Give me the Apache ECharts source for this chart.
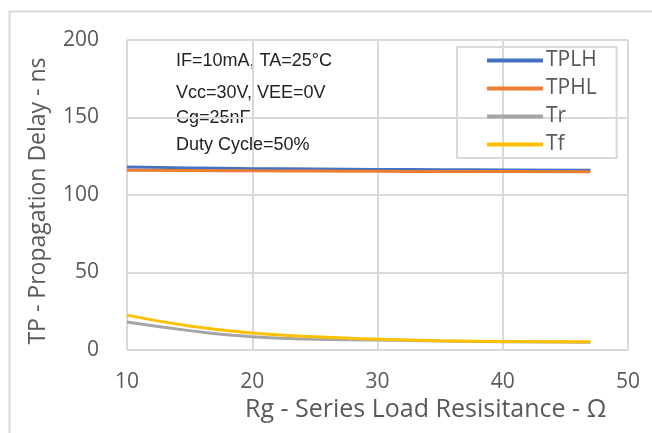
<!DOCTYPE html>
<html><head><meta charset="utf-8">
<script src="https://cdn.jsdelivr.net/npm/echarts@6/dist/echarts.min.js"></script>
<style>html,body{margin:0;padding:0;background:#fff}#c{width:652px;height:433px}</style>
</head><body><div id="c"></div>
<script>
const rg = [10, 15, 20, 25, 30, 35, 40, 47];
const tplh = [118, 117.5, 117, 116.8, 116.5, 116.3, 116.2, 116];
const tphl = [116, 115.8, 115.6, 115.5, 115.3, 115.2, 115.1, 115];
const tr = [18, 12.5, 8.5, 7, 6.5, 5.8, 5.3, 5];
const tf = [22.5, 15.5, 11, 8.5, 7, 6, 5.5, 5.3];
const seriesNames = ['TPLH', 'TPHL', 'Tr', 'Tf'];
const seriesColors = ['#4472C4', '#ED7D31', '#A5A5A5', '#FFC000'];
const notes = ['IF=10mA, TA=25\u00B0C', 'Vcc=30V, VEE=0V', 'Cg=25nF', 'Duty Cycle=50%'];
const xTitle = 'Rg - Series Load Resisitance - \u03A9';
const yTitle = 'TP - Propagation Delay - ns';

const values = [tplh, tphl, tr, tf];
const font = 'Open Sans';
const chart = echarts.init(document.getElementById('c'), null, {renderer: 'canvas'});
const noteTops = [52, 84, 109, 136];
chart.setOption({
  animation: false,
  grid: {left: 127, right: 24, top: 40, bottom: 83, containLabel: false},
  xAxis: {
    type: 'value', min: 10, max: 50, interval: 10,
    axisLine: {show: false}, axisTick: {show: false},
    splitLine: {show: true, lineStyle: {color: '#d9d9d9', width: 2}},
    axisLabel: {color: '#595959', fontSize: 21, fontFamily: font, margin: 22}
  },
  yAxis: {
    type: 'value', min: 0, max: 200, interval: 50,
    name: yTitle, nameLocation: 'middle', nameGap: 77,
    nameTextStyle: {color: '#595959', fontSize: 23, fontFamily: font, padding: [0, 12, 0, 0]},
    axisLine: {show: false}, axisTick: {show: false},
    splitLine: {show: true, lineStyle: {color: '#d9d9d9', width: 2}},
    axisLabel: {color: '#595959', fontSize: 21, fontFamily: font, margin: 28}
  },
  legend: {
    data: seriesNames, orient: 'vertical', left: 457, top: 47,
    icon: 'rect', itemWidth: 56, itemHeight: 4, itemGap: 7,
    padding: [3, 20, 3, 30],
    borderColor: '#d9d9d9', borderWidth: 2,
    textStyle: {color: '#595959', fontSize: 21, fontFamily: font, padding: [0, 0, 0, -2]}
  },
  graphic: [
    {type: 'rect', left: 7, top: 9, shape: {width: 700, height: 500},
     style: {fill: 'none', stroke: '#d9d9d9', lineWidth: 2}, silent: true, z: -1},
    {type: 'text', left: 245, top: 397, style: {text: xTitle, fill: '#595959', font: '25px "' + font + '"'}}
  ].concat(notes.map((t, i) => ({
    type: 'text', left: 176, top: noteTops[i],
    style: {text: t, fill: '#222', font: '18px "Liberation Sans Narrow", Arial'}
  }))),
  series: seriesNames.map((n, i) => ({
    name: n, type: 'line', smooth: true, showSymbol: false,
    data: rg.map((x, j) => [x, values[i][j]]),
    lineStyle: {color: seriesColors[i], width: 3},
    itemStyle: {color: seriesColors[i]}
  }))
});
</script></body></html>
